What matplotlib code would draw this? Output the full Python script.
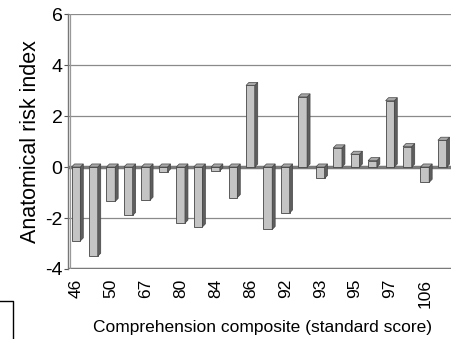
import matplotlib
matplotlib.use("Agg")
import matplotlib.pyplot as plt
from matplotlib.patches import Polygon
from matplotlib.lines import Line2D

# data
scores = ["46", "", "50", "", "67", "", "80", "", "84", "", "86", "",
          "92", "", "93", "", "95", "", "97", "", "106", ""]
risk = [-2.9, -3.5, -1.35, -1.9, -1.3, -0.2, -2.2, -2.35, -0.15, -1.2, 3.2, -2.45,
        -1.8, 2.75, -0.45, 0.75, 0.5, 0.25, 2.6, 0.8, -0.6, 1.05]
yticks = [-4, -2, 0, 2, 4, 6]

plt.rcParams['font.family'] = ['Liberation Sans', 'DejaVu Sans']

fig = plt.figure(figsize=(4.51, 3.39), dpi=100)
ax = fig.add_axes([0.151, 0.2065, 0.849, 0.752])

x = list(range(len(risk)))
w = 0.5
dx, dy = 0.17, 0.12

for g in [-2, 2, 4, 6]:
    ax.axhline(g, color="#8a8a8a", lw=0.9, zorder=1)
ax.axhline(0, color="#7a7a7a", lw=2.5, zorder=1)
ax.axhline(-4, color="#7a7a7a", lw=2.5, zorder=1)

ax.bar(x, risk, width=w, color="#c4c4c4", edgecolor="#454545", lw=0.6, zorder=3)
for xi, v in zip(x, risk):
    r = xi + w / 2
    side = [(r, 0), (r + dx, dy), (r + dx, v + dy), (r, v)]
    ax.add_patch(Polygon(side, closed=True, fc="#5e5e5e", ec="#454545", lw=0.5, zorder=3))
    top = max(v, 0)
    lid = [(xi - w / 2, top), (xi - w / 2 + dx, top + dy), (r + dx, top + dy), (r, top)]
    ax.add_patch(Polygon(lid, closed=True, fc="#a8a8a8", ec="#454545", lw=0.5, zorder=3))

ax.set_xlim(-0.45, len(risk) - 0.5)
ax.set_ylim(-4, 6)
ax.set_yticks(yticks)
ax.set_yticklabels([str(t) for t in yticks], fontsize=14)
ax.set_xticks(x)
ax.set_xticklabels(scores, rotation=90, fontsize=12.5)
ax.tick_params(axis="x", length=0, pad=7)
ax.tick_params(axis="y", length=3, width=0.8, color="#555555", pad=1)

for s in ["top", "right", "bottom"]:
    ax.spines[s].set_visible(False)
ax.spines["left"].set_color("#777777")
ax.spines["left"].set_linewidth(1.0)
# wall edge
ax.axvline(-0.45 + 0.11, color="#999999", lw=0.9, zorder=1)

ax.set_ylabel("Anatomical risk index", fontsize=15.5, labelpad=3)
fig.text(0.583, 0.035, "Comprehension composite (standard score)", ha="center", va="center",
         fontsize=12.5)

# stray box corner at bottom left
fig.add_artist(Line2D([0, 13 / 451, 13 / 451], [38 / 339, 38 / 339, 0],
                      transform=fig.transFigure, color="black", lw=1.0))

fig.savefig("out.png", dpi=100)
